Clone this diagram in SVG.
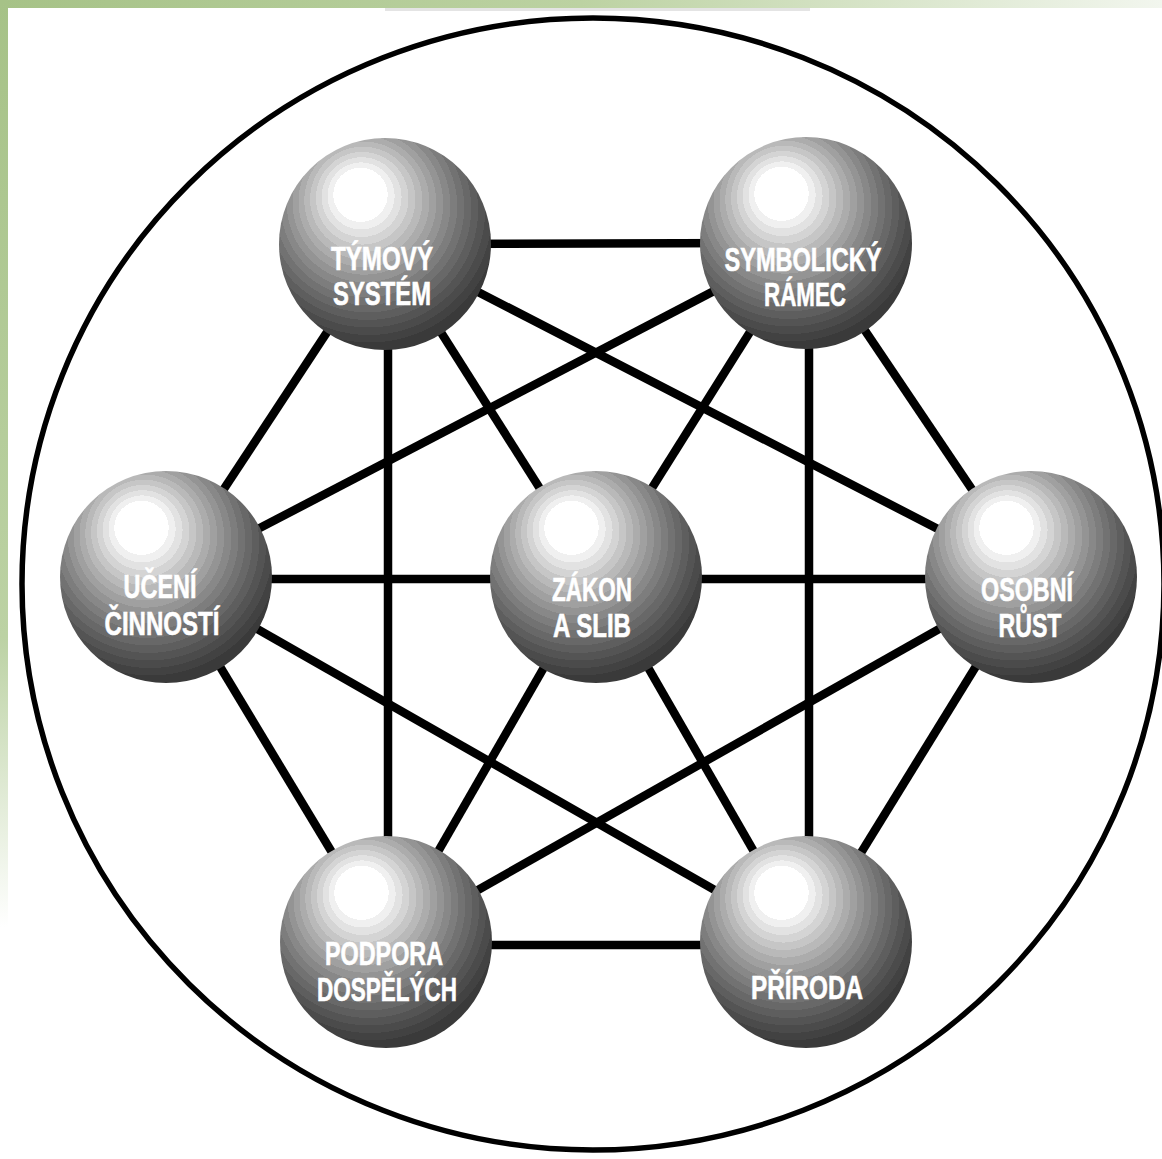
<svg xmlns="http://www.w3.org/2000/svg" width="1162" height="1159" viewBox="0 0 1162 1159">
<defs>
<linearGradient id="gTop" x1="0" y1="0" x2="1" y2="0">
<stop offset="0" stop-color="#a6c287"/><stop offset="0.5" stop-color="#bcd2a2"/><stop offset="1" stop-color="#f2f6ee"/>
</linearGradient>
<linearGradient id="gLeft" x1="0" y1="0" x2="0" y2="1">
<stop offset="0" stop-color="#a6c287"/><stop offset="0.55" stop-color="#bcd2a4"/><stop offset="0.8" stop-color="#ffffff"/>
</linearGradient>
<radialGradient id="sphere" cx="0.43" cy="0.36" r="0.64" fx="0.373" fy="0.245">
<stop offset="0" stop-color="#ffffff"/><stop offset="0.2" stop-color="#ffffff"/>
<stop offset="0.2" stop-color="#f0f0f0"/><stop offset="0.247" stop-color="#f0f0f0"/>
<stop offset="0.247" stop-color="#e2e2e2"/><stop offset="0.294" stop-color="#e2e2e2"/>
<stop offset="0.294" stop-color="#d4d4d4"/><stop offset="0.341" stop-color="#d4d4d4"/>
<stop offset="0.341" stop-color="#c6c6c6"/><stop offset="0.388" stop-color="#c6c6c6"/>
<stop offset="0.388" stop-color="#b9b9b9"/><stop offset="0.435" stop-color="#b9b9b9"/>
<stop offset="0.435" stop-color="#acacac"/><stop offset="0.482" stop-color="#acacac"/>
<stop offset="0.482" stop-color="#a0a0a0"/><stop offset="0.529" stop-color="#a0a0a0"/>
<stop offset="0.529" stop-color="#949494"/><stop offset="0.576" stop-color="#949494"/>
<stop offset="0.576" stop-color="#888888"/><stop offset="0.624" stop-color="#888888"/>
<stop offset="0.624" stop-color="#7d7d7d"/><stop offset="0.671" stop-color="#7d7d7d"/>
<stop offset="0.671" stop-color="#727272"/><stop offset="0.718" stop-color="#727272"/>
<stop offset="0.718" stop-color="#686868"/><stop offset="0.765" stop-color="#686868"/>
<stop offset="0.765" stop-color="#5e5e5e"/><stop offset="0.812" stop-color="#5e5e5e"/>
<stop offset="0.812" stop-color="#545454"/><stop offset="0.859" stop-color="#545454"/>
<stop offset="0.859" stop-color="#4b4b4b"/><stop offset="0.906" stop-color="#4b4b4b"/>
<stop offset="0.906" stop-color="#424242"/><stop offset="0.953" stop-color="#424242"/>
<stop offset="0.953" stop-color="#3a3a3a"/><stop offset="1" stop-color="#3a3a3a"/>
</radialGradient>
</defs>
<style>
.ball{fill:url(#sphere);}
.lbl{font-family:"Liberation Sans",Arial,sans-serif;font-weight:700;font-size:33px;fill:#ffffff;stroke:#ffffff;stroke-width:0.6;text-anchor:middle;}
.edge{stroke:#000;stroke-width:8.5;fill:none;}
</style>
<rect x="0" y="0" width="1162" height="1159" fill="#ffffff"/>
<rect x="0" y="0" width="1162" height="8" fill="url(#gTop)"/>
<rect x="0" y="0" width="8" height="1159" fill="url(#gLeft)"/>
<rect x="385" y="8" width="425" height="3" fill="#e4e4e4"/>
<ellipse cx="593" cy="584" rx="571" ry="566" fill="none" stroke="#000" stroke-width="5.5"/>
<g id="connectors">
<line class="edge" x1="385" y1="244" x2="806" y2="243"/>
<line class="edge" x1="385" y1="244" x2="166" y2="577"/>
<line class="edge" x1="385" y1="244" x2="596" y2="577"/>
<line class="edge" x1="385" y1="244" x2="1031" y2="577"/>
<line class="edge" x1="388" y1="244" x2="388" y2="942"/>
<line class="edge" x1="806" y1="243" x2="166" y2="577"/>
<line class="edge" x1="806" y1="243" x2="596" y2="577"/>
<line class="edge" x1="806" y1="243" x2="1031" y2="577"/>
<line class="edge" x1="809" y1="243" x2="809" y2="942"/>
<line class="edge" x1="166" y1="579" x2="596" y2="579"/>
<line class="edge" x1="596" y1="579" x2="1031" y2="579"/>
<line class="edge" x1="166" y1="577" x2="386" y2="942"/>
<line class="edge" x1="166" y1="577" x2="806" y2="942"/>
<line class="edge" x1="1031" y1="577" x2="386" y2="942"/>
<line class="edge" x1="1031" y1="577" x2="806" y2="942"/>
<line class="edge" x1="386" y1="945" x2="806" y2="945"/>
<line class="edge" x1="596" y1="577" x2="386" y2="942"/>
<line class="edge" x1="596" y1="577" x2="806" y2="942"/>
</g>
<g id="tymovy-system">
<circle class="ball" cx="385" cy="244" r="106"/>
<text class="lbl" x="382" y="270" textLength="102" lengthAdjust="spacingAndGlyphs">TÝMOVÝ</text>
<text class="lbl" x="382" y="305" textLength="98" lengthAdjust="spacingAndGlyphs">SYSTÉM</text>
</g>
<g id="symbolicky-ramec">
<circle class="ball" cx="806" cy="243" r="106"/>
<text class="lbl" x="803" y="271" textLength="157" lengthAdjust="spacingAndGlyphs">SYMBOLICKÝ</text>
<text class="lbl" x="805" y="306" textLength="82" lengthAdjust="spacingAndGlyphs">RÁMEC</text>
</g>
<g id="uceni-cinnosti">
<circle class="ball" cx="166" cy="577" r="106"/>
<text class="lbl" x="160" y="598" textLength="73" lengthAdjust="spacingAndGlyphs">UČENÍ</text>
<text class="lbl" x="162" y="635" textLength="115" lengthAdjust="spacingAndGlyphs">ČINNOSTÍ</text>
</g>
<g id="zakon-a-slib">
<circle class="ball" cx="596" cy="577" r="106"/>
<text class="lbl" x="592" y="601" textLength="80" lengthAdjust="spacingAndGlyphs">ZÁKON</text>
<text class="lbl" x="592" y="637" textLength="78" lengthAdjust="spacingAndGlyphs">A SLIB</text>
</g>
<g id="osobni-rust">
<circle class="ball" cx="1031" cy="577" r="106"/>
<text class="lbl" x="1027" y="601" textLength="92" lengthAdjust="spacingAndGlyphs">OSOBNÍ</text>
<text class="lbl" x="1030" y="637" textLength="63" lengthAdjust="spacingAndGlyphs">RŮST</text>
</g>
<g id="podpora-dospelych">
<circle class="ball" cx="386" cy="942" r="106"/>
<text class="lbl" x="384" y="965" textLength="118" lengthAdjust="spacingAndGlyphs">PODPORA</text>
<text class="lbl" x="387" y="1001" textLength="140" lengthAdjust="spacingAndGlyphs">DOSPĚLÝCH</text>
</g>
<g id="priroda">
<circle class="ball" cx="806" cy="942" r="106"/>
<text class="lbl" x="807" y="999" textLength="112" lengthAdjust="spacingAndGlyphs">PŘÍRODA</text>
</g>
</svg>
